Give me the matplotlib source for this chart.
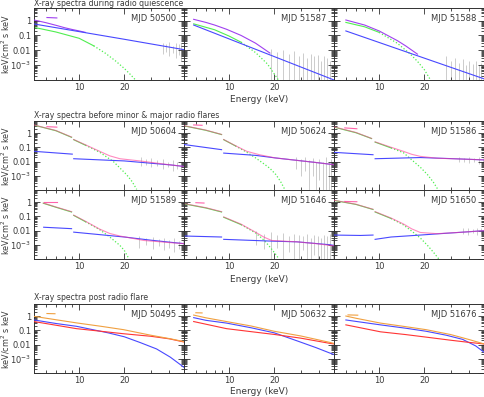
import numpy as np
import matplotlib
matplotlib.use("Agg")
import matplotlib.pyplot as plt
from matplotlib.ticker import FixedLocator, LogLocator, NullFormatter, FixedFormatter

# ---- data (energy keV, flux keV/cm^2 s keV) ----
# None breaks a line into two pieces

# row 1: during radio quiescence
m50500_total = ([5, 6, 7, 8, 9, 10, 11], [1.09, 0.72, 0.48, 0.33, 0.25, 0.2, 0.16])
m50500_total_hi = ([6.1, 7.1], [1.6, 1.5])
m50500_pl = ([5, 20, 50], [0.59, 0.055, 0.011])
m50500_bb = ([5, 7, 10, 12.5, 15, 17.5, 20, 22, 24], [0.35, 0.17, 0.064, 0.02, 0.0062, 0.0019, 6e-4, 2.3e-4, 9e-5])
m50500_err = ([36, 38, 40, 42, 44, 46, 48],
              [0.006, 0.008, 0.004, 0.007, 0.003, 0.005, 0.002],
              [0.03, 0.025, 0.035, 0.02, 0.03, 0.025, 0.03])

m51587_total = ([5.8, 7, 8, 9.6, 12, 15, 18.7], [1.21, 0.75, 0.5, 0.26, 0.1, 0.03, 0.0065])
m51587_pl = ([5.8, 15, 50], [0.5, 0.0117, 1e-4])
m51587_bb = ([5.8, 8, 10, 12, 15, 18, 21.3], [0.6, 0.24, 0.09, 0.035, 0.007, 0.0012, 1e-4])
m51587_err = ([19, 21, 23, 25, 27, 29, 31, 33, 35, 37, 39, 41, 43, 45, 47],
              [1e-5] * 15,
              [0.012, 0.008, 0.01, 0.006, 0.009, 0.004, 0.007, 0.003, 0.006, 0.004, 0.005, 0.002, 0.004, 0.003, 0.002])

m51588_total = ([6, 8, 10, 13.2, 15, 18], [1.09, 0.5, 0.2, 0.045, 0.02, 0.0055])
m51588_pl = ([6, 15, 50], [0.2, 0.0081, 1.2e-4])
m51588_bb = ([6, 8, 10, 13.2, 16, 18, 20, 22], [0.75, 0.38, 0.16, 0.03, 0.006, 0.0018, 5e-4, 1e-4])
m51588_err = ([28, 30, 32, 34, 36, 38, 40, 42, 44, 46, 48],
              [1e-5] * 11,
              [0.004, 0.002, 0.003, 0.0015, 0.0025, 0.001, 0.002, 0.0012, 0.0018, 0.001, 0.0015])

# row 2: before minor & major radio flares
m50604_total = ([5, 7, 8.9, None, 9.2, 11, 13.7, 16, 18.7, 22, 25.4, 32, 40.5, 50],
                [3.7, 1.5, 0.52, None, 0.35, 0.15, 0.052, 0.025, 0.0157, 0.013, 0.011, 0.008, 0.0058, 0.0045])
m50604_total_hi = ([6.1, 7.1], [2.8, 2.6])
m50604_bb = ([5, 7, 8.9, None, 9.2, 11, 13.7, 16.9, 18.7, 20.7, 22.5, 24.2],
             [3.6, 1.45, 0.5, None, 0.34, 0.14, 0.045, 0.01, 0.0035, 0.0012, 4e-4, 1.1e-4])
m50604_pl = ([5, 9, None, 9.2, 20, 40.5, 50], [0.052, 0.033, None, 0.0157, 0.011, 0.0058, 0.0045])
m50604_err = ([26, 28, 30, 33, 36, 39, 42, 45, 48],
              [0.005, 0.006, 0.004, 0.005, 0.003, 0.004, 0.002, 0.003, 0.002],
              [0.02, 0.015, 0.018, 0.012, 0.016, 0.01, 0.012, 0.009, 0.01])

m50624_total = ([5, 7, 8.9, None, 9.2, 11, 13.1, 15.9, 20.2, 28.4, 38, 50],
                [3.3, 1.6, 0.8, None, 0.35, 0.13, 0.052, 0.03, 0.018, 0.012, 0.0085, 0.006])
m50624_total_hi = ([5.8, 6.6], [3.7, 3.5])
m50624_bb = ([5, 7, 8.9, None, 9.2, 11, 13.1, 15, 17, 18.7, 20.5, 22, 23.6],
             [3.2, 1.55, 0.78, None, 0.34, 0.125, 0.045, 0.018, 0.007, 0.0033, 0.0012, 4e-4, 1e-4])
m50624_pl = ([5, 8.9, None, 9.2, 15, 20.2, 28.4, 38, 50],
             [0.156, 0.068, None, 0.039, 0.027, 0.018, 0.012, 0.0085, 0.006])
m50624_err = ([28, 30, 32, 34, 36, 38, 40, 42, 44, 46, 48],
              [0.003, 0.001, 0.002, 1e-4, 0.001, 1e-5, 5e-4, 1e-5, 1e-4, 1e-5, 1e-5],
              [0.02, 0.015, 0.02, 0.012, 0.018, 0.01, 0.015, 0.01, 0.02, 0.008, 0.015])

m51586_total = ([5, 7, 8.9, None, 9.4, 12, 14.5, 16.5, 18.8, 24.3, 35, 50],
                [2.7, 1.1, 0.42, None, 0.24, 0.1, 0.052, 0.032, 0.023, 0.017, 0.015, 0.013])
m51586_total_hi = ([5.9, 7.1], [2.3, 2.0])
m51586_bb = ([5, 7, 8.9, None, 9.4, 12, 14.5, 16.5, 18.8, 21, 23, 24.5],
             [2.6, 1.05, 0.41, None, 0.23, 0.09, 0.042, 0.013, 0.004, 0.0012, 3.5e-4, 1.2e-4])
m51586_pl = ([5, 9.1, None, 9.4, 18.8, 30, 50], [0.044, 0.03, None, 0.0157, 0.019, 0.016, 0.013])
m51586_err = ([34, 37, 40, 43, 46, 49],
              [0.009, 0.01, 0.008, 0.009, 0.007, 0.008],
              [0.02, 0.018, 0.02, 0.017, 0.02, 0.018])

m51589_total = ([5.77, 7, 8.9, None, 9.2, 11, 13.7, 16, 18.7, 22, 27, 35, 40.5, 50],
                [0.85, 0.45, 0.21, None, 0.12, 0.045, 0.0126, 0.0062, 0.0041, 0.003, 0.002, 0.0016, 0.0014, 0.0012])
m51589_total_hi = ([5.8, 7.1], [1.0, 1.0])
m51589_bb = ([5.77, 7, 8.9, None, 9.2, 11, 13.7, 16, 18.7, 20, 21.5],
             [0.82, 0.43, 0.2, None, 0.115, 0.042, 0.0115, 0.0035, 9e-4, 4e-4, 1e-4])
m51589_pl = ([5.8, 8.9, None, 9.2, 20, 30, 40.5, 50], [0.017, 0.0135, None, 0.0077, 0.0035, 0.0021, 0.0015, 0.0012])
m51589_err = ([25, 28, 31, 34, 37, 40, 43, 46, 49],
              [6e-4, 1e-3, 5e-4, 8e-4, 4e-4, 6e-4, 3e-4, 5e-4, 2e-4],
              [0.004, 0.003, 0.0035, 0.0025, 0.003, 0.002, 0.0028, 0.0018, 0.0022])

m51646_total = ([5.1, 7, 8.9, None, 9.2, 12, 15.1, 17, 19.2, 23, 28.4, 38, 47, 50],
                [0.75, 0.4, 0.21, None, 0.09, 0.028, 0.0073, 0.0035, 0.002, 0.0018, 0.0016, 0.0012, 0.0009, 0.00085])
m51646_total_hi = ([6, 6.8], [0.9, 0.85])
m51646_bb = ([5.1, 7, 8.9, None, 9.2, 12, 15.1, 17, 18.5, 20.2, 21.5],
             [0.72, 0.38, 0.2, None, 0.085, 0.026, 0.0065, 0.0022, 8e-4, 2.5e-4, 1e-4])
m51646_pl = ([5.1, 8.9, None, 9.2, 19.2, 28.4, 47, 50], [0.0041, 0.0035, None, 0.0024, 0.0018, 0.0016, 0.001, 0.0009])
m51646_err = ([15, 17, 19, 21, 23, 25, 27, 29, 31, 33, 35, 37, 39, 41, 43, 45, 47, 49],
              [1e-3, 5e-4, 1e-5, 6e-4, 1e-5, 3e-4, 1e-5, 1e-5, 4e-4, 1e-5, 1e-5, 2e-4, 1e-5, 1e-5, 1e-5, 1e-5, 1e-5, 1e-5],
              [0.01, 0.006, 0.008, 0.005, 0.007, 0.004, 0.006, 0.005, 0.004, 0.006, 0.003, 0.005, 0.004, 0.003, 0.005, 0.004, 0.006, 0.003])

m51650_total = ([5, 7, 9.1, None, 9.4, 12, 14.5, 16.5, 18.8, 24.3, 35, 50],
                [1.33, 0.7, 0.31, None, 0.21, 0.075, 0.029, 0.013, 0.0073, 0.006, 0.0075, 0.0097])
m51650_total_hi = ([5.9, 7.1], [1.1, 1.05])
m51650_bb = ([5, 7, 9.1, None, 9.4, 12, 14.5, 16.5, 18.8, 21, 23, 25],
             [1.3, 0.68, 0.3, None, 0.2, 0.07, 0.025, 0.009, 0.003, 9e-4, 3e-4, 1e-4])
m51650_pl = ([5, 7.5, 9.1, None, 9.4, 12, 18.8, 24.3, 35, 50],
             [0.0048, 0.0045, 0.0048, None, 0.0024, 0.0035, 0.0048, 0.0058, 0.0075, 0.0097])
m51650_err = ([36, 39, 42, 45, 48],
              [0.006, 0.005, 0.007, 0.005, 0.006],
              [0.014, 0.015, 0.013, 0.016, 0.014])

# row 3: post radio flare
m50495_total = ([5, 7, 9.6, 14, 19.8, 30, 40, 50], [0.95, 0.55, 0.33, 0.19, 0.11, 0.045, 0.026, 0.016])
m50495_total_hi = ([6.1, 6.9], [1.5, 1.45])
m50495_red = ([5, 9.6, 14, 19.8, 30, 40, 50], [0.41, 0.13, 0.085, 0.057, 0.038, 0.025, 0.015])
m50495_blue = ([5, 7, 9.6, 15.6, 20, 25.4, 32.8, 40.5, 50], [0.53, 0.3, 0.19, 0.066, 0.035, 0.014, 0.0049, 0.0013, 2.5e-4])

m50632_total = ([5.8, 7, 9.6, 14, 20, 30, 47, 50], [1.17, 0.75, 0.41, 0.2, 0.085, 0.04, 0.014, 0.012])
m50632_total_hi = ([6, 6.6], [1.7, 1.65])
m50632_red = ([5.8, 9.6, 14, 20, 30, 47, 50], [0.41, 0.13, 0.08, 0.051, 0.028, 0.012, 0.011])
m50632_blue = ([5.8, 7, 9.6, 14, 20, 28.4, 38, 47, 50], [0.77, 0.5, 0.32, 0.15, 0.066, 0.018, 0.006, 0.0025, 0.002])

m51676_total = ([6, 7, 10.2, 15, 20.6, 30, 40, 50], [1.0, 0.7, 0.32, 0.18, 0.11, 0.05, 0.022, 0.011])
m51676_total_hi = ([6.2, 7.2], [1.2, 1.15])
m51676_red = ([6, 10.2, 15, 20.6, 30, 40, 50], [0.24, 0.078, 0.05, 0.033, 0.02, 0.014, 0.011])
m51676_blue = ([6, 7, 10.2, 15, 20.6, 28, 36, 44, 50], [0.53, 0.42, 0.24, 0.14, 0.085, 0.045, 0.023, 0.008, 0.0029])

section_titles = ["X-ray spectra during radio quiescence",
                  "X-ray spectra before minor & major radio flares",
                  "X-ray spectra post radio flare"]
ytick_vals = [1e-3, 0.01, 0.1, 1]
ytick_labels = [r"$10^{-3}$", "0.01", "0.1", "1"]

# ---- styling ----
PURPLE = '#a040f0'
BLUE = '#4848ff'
GREEN = '#50ee50'
PINK = '#ff3c96'
ORANGE = '#f0a040'
RED = '#ff3434'
GRAY = '#cccccc'
TXT = '#3a3a3a'

W, H = 485, 397
fig = plt.figure(figsize=(W / 100, H / 100), dpi=100)

col_left = [34, 184, 334]
PW = 150


def arr(v):
    return np.array(v, dtype=float)


def make_ax(col, top, h, xlabels):
    ax = fig.add_axes([col_left[col] / W, 1 - (top + h) / H, PW / W, h / H])
    ax.set_xscale('log')
    ax.set_yscale('log')
    ax.set_xlim(5, 50)
    ax.set_ylim(1e-4, 7)
    ax.xaxis.set_major_locator(FixedLocator([10, 20]))
    ax.xaxis.set_minor_locator(FixedLocator([6, 7, 8, 9, 30, 40]))
    ax.xaxis.set_minor_formatter(NullFormatter())
    if xlabels:
        ax.xaxis.set_major_formatter(FixedFormatter(["10", "20"]))
    else:
        ax.xaxis.set_major_formatter(NullFormatter())
    ax.yaxis.set_major_locator(FixedLocator([1e-4] + ytick_vals))
    ax.yaxis.set_minor_locator(LogLocator(base=10, subs=np.arange(2, 10), numticks=20))
    ax.yaxis.set_minor_formatter(NullFormatter())
    if col == 0:
        ax.yaxis.set_major_formatter(FixedFormatter([""] + ytick_labels))
    else:
        ax.yaxis.set_major_formatter(NullFormatter())
    ax.tick_params(which='both', direction='in', top=True, right=True,
                   color='#303030', width=0.6, labelsize=6, labelcolor=TXT)
    ax.tick_params(which='major', length=4, pad=2)
    ax.tick_params(which='minor', length=2.2)
    for s in ax.spines.values():
        s.set_linewidth(0.7)
        s.set_color('#303030')
    return ax


def draw_green(ax, curve, thr=12.5):
    e, f = arr(curve[0]), arr(curve[1])
    solid = f.copy()
    solid[e > thr] = np.nan
    dotted = f.copy()
    idx = np.where(e > thr)[0]
    if len(idx):
        dotted[:idx[0] - 1] = np.nan
    ax.plot(e, solid, color=GREEN, lw=0.8, zorder=2)
    ax.plot(e, dotted, color=GREEN, lw=0.9, ls=(0, (1, 1.6)), zorder=2)


def draw_err(ax, err):
    ax.vlines(err[0], err[1], err[2], color=GRAY, lw=0.7, zorder=1)


def label(ax, text, yfrac=0.86):
    ax.text(0.947, yfrac, text, transform=ax.transAxes, ha='right', va='center',
            fontsize=6, color=TXT)


# row 1
row1 = [("MJD 50500", m50500_total, m50500_total_hi, m50500_pl, m50500_bb, m50500_err),
        ("MJD 51587", m51587_total, None, m51587_pl, m51587_bb, m51587_err),
        ("MJD 51588", m51588_total, None, m51588_pl, m51588_bb, m51588_err)]
for i, (name, tot, tot_hi, pl, bb, err) in enumerate(row1):
    ax = make_ax(i, 8, 72, True)
    draw_err(ax, err)
    draw_green(ax, bb)
    ax.plot(arr(tot[0]), arr(tot[1]), color=PURPLE, lw=0.8, zorder=3)
    if tot_hi:
        ax.plot(tot_hi[0], tot_hi[1], color=PURPLE, lw=0.8, zorder=3)
    ax.plot(arr(pl[0]), arr(pl[1]), color=BLUE, lw=0.8, zorder=4)
    label(ax, name)

# row 2 (two rows of panels)
row2 = [("MJD 50604", m50604_total, m50604_total_hi, m50604_pl, m50604_bb, m50604_err),
        ("MJD 50624", m50624_total, m50624_total_hi, m50624_pl, m50624_bb, m50624_err),
        ("MJD 51586", m51586_total, m51586_total_hi, m51586_pl, m51586_bb, m51586_err),
        ("MJD 51589", m51589_total, m51589_total_hi, m51589_pl, m51589_bb, m51589_err),
        ("MJD 51646", m51646_total, m51646_total_hi, m51646_pl, m51646_bb, m51646_err),
        ("MJD 51650", m51650_total, m51650_total_hi, m51650_pl, m51650_bb, m51650_err)]
for i, (name, tot, tot_hi, pl, bb, err) in enumerate(row2):
    top = 121 if i < 3 else 190
    ax = make_ax(i % 3, top, 69, i >= 3)
    draw_err(ax, err)
    draw_green(ax, bb)
    ax.plot(arr(pl[0]), arr(pl[1]), color=BLUE, lw=0.8, zorder=3)
    ax.plot(arr(tot[0]), arr(tot[1]), color=PINK, lw=0.8, alpha=0.6, zorder=4)
    ax.plot(tot_hi[0], tot_hi[1], color=PINK, lw=0.8, alpha=0.8, zorder=4)
    label(ax, name, 0.85)

# row 3
row3 = [("MJD 50495", m50495_total, m50495_total_hi, m50495_red, m50495_blue),
        ("MJD 50632", m50632_total, m50632_total_hi, m50632_red, m50632_blue),
        ("MJD 51676", m51676_total, m51676_total_hi, m51676_red, m51676_blue)]
for i, (name, tot, tot_hi, red, blue) in enumerate(row3):
    ax = make_ax(i, 304, 69, True)
    ax.plot(blue[0], blue[1], color=BLUE, lw=0.8, zorder=3)
    ax.plot(red[0], red[1], color=RED, lw=0.8, zorder=3)
    ax.plot(tot[0], tot[1], color=ORANGE, lw=0.8, zorder=4)
    ax.plot(tot_hi[0], tot_hi[1], color=ORANGE, lw=0.8, zorder=4)
    label(ax, name, 0.85)

# section titles, axis titles
for title, y in zip(section_titles, [3.5, 115, 297.5]):
    fig.text(34 / W, 1 - y / H, title, ha='left', va='center', fontsize=5.6, color=TXT)
for yc in [44, 155.5, 224.5, 338.5]:
    fig.text(6 / W, 1 - yc / H, "keV/cm$^2$ s keV", rotation=90, ha='center', va='center',
             fontsize=5.8, color=TXT)
for yc in [99, 280, 392]:
    fig.text(259 / W, 1 - yc / H, "Energy (keV)", ha='center', va='center', fontsize=6.5, color=TXT)

fig.savefig("out.png", dpi=100)
